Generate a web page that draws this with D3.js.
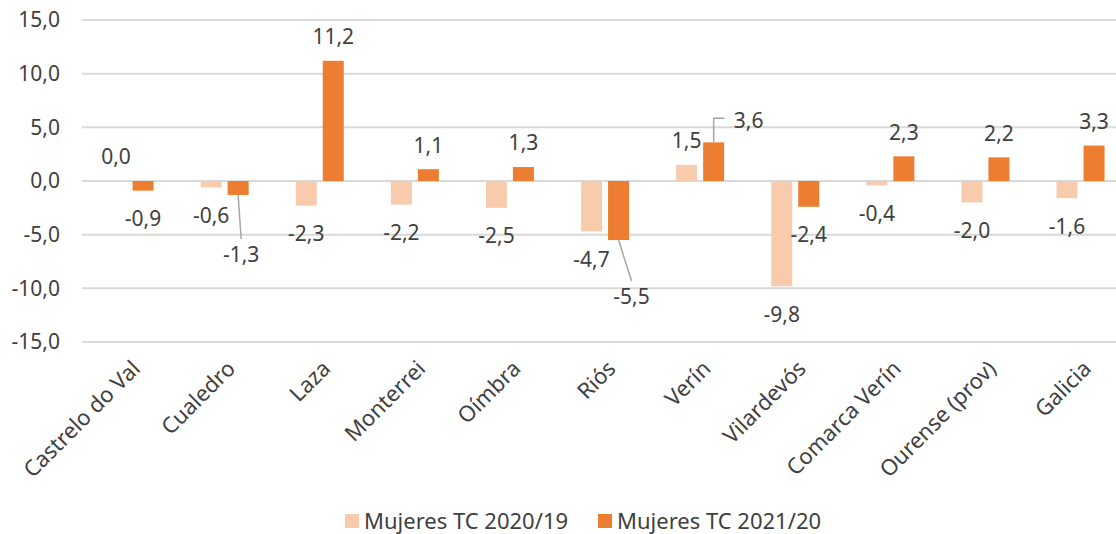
<!DOCTYPE html>
<html>
<head>
<meta charset="utf-8">
<script src="https://cdn.jsdelivr.net/npm/d3@7"></script>
<style>
  body { margin: 0; background: #fff; }
  text { font-family: "Noto Sans", "Open Sans", sans-serif; fill: #404040; }
</style>
</head>
<body>
<script>
var categories = ["Castrelo do Val","Cualedro","Laza","Monterrei","Oímbra","Riós","Verín","Vilardevós","Comarca Verín","Ourense (prov)","Galicia"];
var series = ["Mujeres TC 2020/19","Mujeres TC 2021/20"];
var tc2020 = [0.0,-0.6,-2.3,-2.2,-2.5,-4.7,1.5,-9.8,-0.4,-2.0,-1.6];
var tc2021 = [-0.9,-1.3,11.2,1.1,1.3,-5.5,3.6,-2.4,2.3,2.2,3.3];
var yTicks = [-15,-10,-5,0,5,10,15];
var colors = ["#F8CBAD","#ED7D31"];

var width = 1116, height = 534;
var margin = {left:82, top:20};
var plotBottom = 342;

var svg = d3.select("body").append("svg").attr("width",width).attr("height",height);

var y = d3.scaleLinear().domain([-15,15]).range([plotBottom, margin.top]);
var x0 = d3.scaleBand().domain(categories).range([margin.left, margin.left + 11*95.1]);
var bw = x0.bandwidth();
var x1 = d3.scaleBand().domain(series).range([bw/2 - 24, bw/2 + 24]).paddingInner(0.222);

var fmt = function(v){ return d3.format(".1f")(v).replace(".", ",").replace("−","-"); };

// gridlines
svg.append("g").selectAll("line").data(yTicks).enter().append("line")
  .attr("x1", margin.left).attr("x2", width)
  .attr("y1", function(d){ return y(d); }).attr("y2", function(d){ return y(d); })
  .attr("stroke","#D9D9D9").attr("stroke-width",2);

var yAxis = d3.axisLeft(y).tickValues(yTicks).tickSize(0).tickPadding(0).tickFormat(fmt);
var yg = svg.append("g").attr("transform","translate(60,0)").call(yAxis);
yg.select(".domain").remove();
yg.selectAll("text").style("font-size","21px").attr("fill","#404040");

var rows = categories.map(function(c,i){ return {cat:c, vals:[tc2020[i], tc2021[i]]}; });

// labels moved with leader lines, keyed "series-index"
var moved = {"1-1":{dx:3, dy:60, elbow:false}, "1-5":{dx:13, dy:57, elbow:false}, "1-6":{dx:35, dy:-22, elbow:true}};

var groups = svg.append("g").selectAll("g").data(rows).enter().append("g")
  .attr("transform", function(d){ return "translate("+x0(d.cat)+",0)"; });

groups.each(function(d,i){
  var g = d3.select(this);
  d.vals.forEach(function(v,s){
    var bx = x1(series[s]);
    g.append("rect").attr("x", bx).attr("width", x1.bandwidth())
      .attr("y", y(Math.max(0,v))).attr("height", Math.abs(y(v)-y(0)))
      .attr("fill", colors[s]);
    var cx = bx + x1.bandwidth()/2;
    var end = y(v);
    var ly = v >= 0 ? end - 24 : end + 28;
    var lx = cx;
    var m = moved[s+"-"+i];
    if (m) {
      lx = cx + m.dx;
      ly = end + m.dy;
      if (m.elbow) {
        g.append("path").attr("fill","none").attr("stroke","#A6A6A6").attr("stroke-width",1.5)
          .attr("d","M"+cx+","+end+"V"+(ly-2)+"H"+(cx+11));
      } else {
        g.append("line").attr("stroke","#A6A6A6").attr("stroke-width",1.5)
          .attr("x1",cx).attr("y1",end).attr("x2",lx).attr("y2",ly-16);
      }
    }
    g.append("text").attr("x", lx).attr("y", ly).attr("dy","0.35em")
      .attr("text-anchor", "middle").style("font-size","21px").text(fmt(v));
  });
});

// category labels
svg.append("g").selectAll("text").data(categories).enter().append("text")
  .attr("transform", function(d){ return "translate("+(x0(d)+bw/2+12)+",370) rotate(-45)"; })
  .attr("text-anchor","end").style("font-size","22px").text(function(d){ return d; });

// legend
var legend = svg.append("g").selectAll("g").data(series).enter().append("g")
  .attr("transform", function(d,i){ return "translate("+(345 + i*253)+",514)"; });
legend.append("rect").attr("width",14).attr("height",14).attr("fill", function(d,i){ return colors[i]; });
legend.append("text").attr("x",19).attr("y",7).attr("dy","0.35em").style("font-size","22px").text(function(d){ return d; });
</script>
</body>
</html>
